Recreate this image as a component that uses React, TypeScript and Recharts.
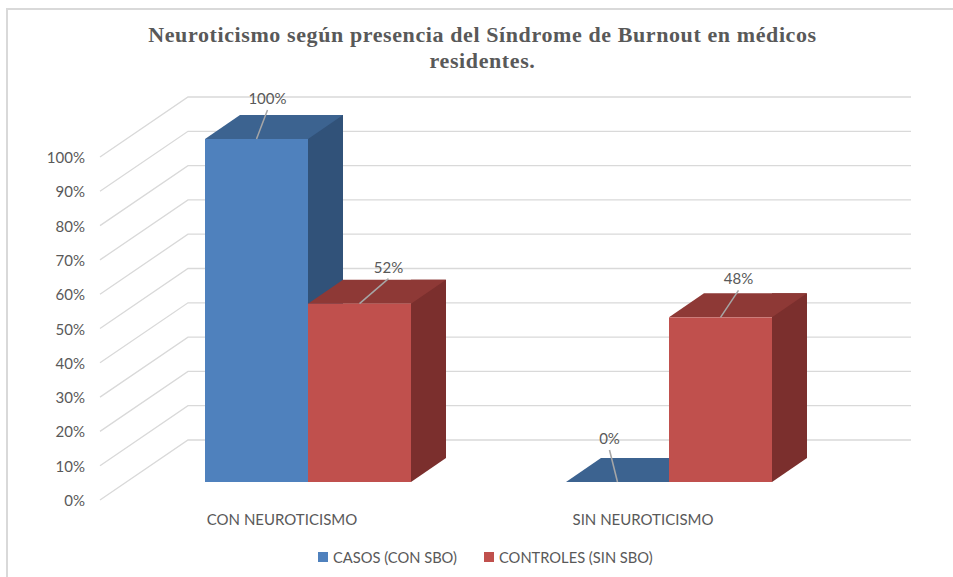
import { BarChart, Bar, XAxis, YAxis, CartesianGrid, Legend, LabelList } from 'recharts';

const categories = ['CON NEUROTICISMO', 'SIN NEUROTICISMO'];
const casos = [100, 0];
const controles = [52, 48];
const yTicks = [0, 10, 20, 30, 40, 50, 60, 70, 80, 90, 100];

const chartData = categories.map((name, i) => ({ name, casos: casos[i], controles: controles[i] }));

// depth of the fake 3D box, same as the excel chart
const DX = 35;
const DY = 24;
const TEXT = '#595959';
const FONT = 'Lato, sans-serif';

// leader line end relative to the bar's top centre, per category
const casosLeaders = [{ dx: 11, dy: -29 }, { dx: -8, dy: -32 }];
const controlesLeaders = [{ dx: 29, dy: -25 }, { dx: 18, dy: -27 }];

const box = (front: string, top: string, side: string) => (props: any) => {
  const { x, y, width, height } = props;
  return (
    <g>
      <path d={`M${x + width},${y + height} l${DX},${-DY} V${y - DY} H${x + width} Z`} fill={side} />
      <path d={`M${x},${y} l${DX},${-DY} h${width} l${-DX},${DY} Z`} fill={top} />
      <rect x={x} y={y} width={width} height={height} fill={front} />
    </g>
  );
};

const leaderLabel = (leaders: { dx: number; dy: number }[]) => (props: any) => {
  const { x, y, width, value, index } = props;
  const cx = x + width / 2;
  const { dx, dy } = leaders[index];
  return (
    <g>
      <line x1={cx} y1={y} x2={cx + dx} y2={y + dy} stroke="#a6a6a6" strokeWidth={1.5} />
      <text x={cx + dx} y={y + dy - 12} textAnchor="middle" dominantBaseline="central" fill={TEXT} fontSize={15} fontFamily={FONT}>
        {value}%
      </text>
    </g>
  );
};

const gridLine = (props: any) => {
  const { y1, index } = props;
  return (
    <polyline
      key={index}
      points={`100,${y1 + 18} 188,${y1 - 42} 911,${y1 - 42}`}
      fill="none"
      stroke="#d9d9d9"
      strokeWidth={1.3}
    />
  );
};

const YTick = ({ y, payload }: any) => (
  <text x={85} y={y + 18} textAnchor="end" dominantBaseline="central" fill={TEXT} fontSize={15} fontFamily={FONT}>
    {payload.value}%
  </text>
);

const XTick = ({ x, payload }: any) => (
  <text x={x - 25.5} y={519} textAnchor="middle" dominantBaseline="central" fill={TEXT} fontSize={15} fontFamily={FONT}>
    {payload.value}
  </text>
);

const LegendRow = ({ payload }: any) => (
  <div style={{ display: 'flex', alignItems: 'center', fontFamily: FONT, fontSize: 14.7, lineHeight: '18px', color: TEXT }}>
    {payload.map((item: any, i: number) => (
      <div key={item.value} style={{ display: 'flex', alignItems: 'center', marginRight: i === 0 ? 27 : 0 }}>
        <span style={{ width: 10, height: 10, background: item.color, marginRight: 5 }} />
        {item.value}
      </div>
    ))}
  </div>
);

export default function App() {
  return (
    <div style={{ position: 'absolute', left: 0, top: 0, width: 953, height: 577, background: '#fff', overflow: 'hidden' }}>
      <div style={{ position: 'absolute', left: 6, top: 8, width: 960, height: 580, border: '2px solid #d9d9d9', boxSizing: 'border-box' }} />
      <div
        style={{
          position: 'absolute',
          left: 100,
          top: 22,
          width: 765,
          textAlign: 'center',
          fontFamily: '"Liberation Serif", serif',
          fontWeight: 'bold',
          fontSize: 22,
          lineHeight: '26px',
          color: TEXT,
          letterSpacing: 0.6,
        }}
      >
        Neuroticismo según presencia del Síndrome de Burnout en médicos
        <br />
        residentes.
      </div>
      <BarChart
        width={953}
        height={577}
        data={chartData}
        margin={{ top: 139, right: 104, bottom: 37, left: 67 }}
        barSize={103}
        barGap={0}
        style={{ position: 'absolute', left: 0, top: 0 }}
      >
        <CartesianGrid vertical={false} horizontal={gridLine} />
        <XAxis dataKey="name" height={40} axisLine={false} tickLine={false} tick={<XTick />} />
        <YAxis width={60} domain={[0, 100]} ticks={yTicks} axisLine={false} tickLine={false} tick={<YTick />} interval={0} />
        <Legend content={<LegendRow />} wrapperStyle={{ left: 318, width: 360, bottom: 11 }} />
        <Bar dataKey="casos" name="CASOS (CON SBO)" fill="#4f81bd" isAnimationActive={false} shape={box('#4f81bd', '#3c6390', '#315279')}>
          <LabelList dataKey="casos" content={leaderLabel(casosLeaders)} />
        </Bar>
        <Bar dataKey="controles" name="CONTROLES (SIN SBO)" fill="#c0504d" isAnimationActive={false} shape={box('#c0504d', '#8e3936', '#7b2f2d')}>
          <LabelList dataKey="controles" content={leaderLabel(controlesLeaders)} />
        </Bar>
      </BarChart>
    </div>
  );
}
